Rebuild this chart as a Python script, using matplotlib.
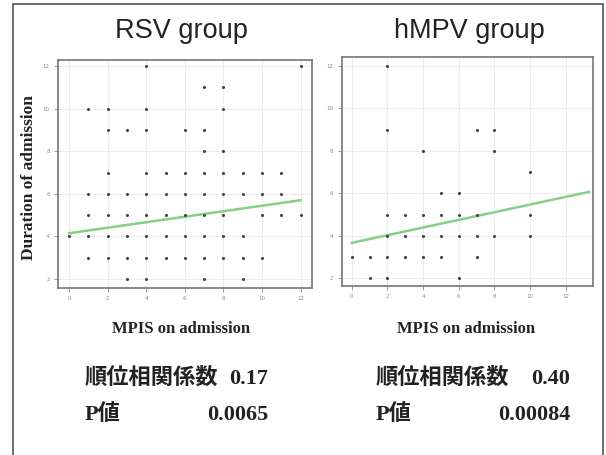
import matplotlib.pyplot as plt
from matplotlib.patches import Rectangle

# MPIS score (x) vs. duration of admission (y), one entry per dot
rsv_x = [4, 12,
         7, 8,
         1, 2, 4, 8,
         2, 3, 4, 6, 7,
         7, 8,
         2, 4, 5, 6, 7, 8, 9, 10, 11,
         1, 2, 3, 4, 5, 6, 7, 8, 9, 10, 11,
         1, 2, 3, 4, 5, 6, 7, 8, 10, 11, 12,
         0, 1, 2, 3, 4, 5, 6, 7, 8, 9,
         1, 2, 3, 4, 5, 6, 7, 8, 9, 10,
         3, 4, 7, 9]
rsv_y = [12, 12,
         11, 11,
         10, 10, 10, 10,
         9, 9, 9, 9, 9,
         8, 8,
         7, 7, 7, 7, 7, 7, 7, 7, 7,
         6, 6, 6, 6, 6, 6, 6, 6, 6, 6, 6,
         5, 5, 5, 5, 5, 5, 5, 5, 5, 5, 5,
         4, 4, 4, 4, 4, 4, 4, 4, 4, 4,
         3, 3, 3, 3, 3, 3, 3, 3, 3, 3,
         2, 2, 2, 2]

hmpv_x = [2,
          2, 7, 8,
          4, 8,
          10,
          5, 6,
          2, 3, 4, 5, 6, 7, 10,
          2, 3, 4, 5, 6, 7, 8, 10,
          0, 1, 2, 3, 4, 5, 7,
          1, 2, 6]
hmpv_y = [12,
          9, 9, 9,
          8, 8,
          7,
          6, 6,
          5, 5, 5, 5, 5, 5, 5,
          4, 4, 4, 4, 4, 4, 4, 4,
          3, 3, 3, 3, 3, 3, 3,
          2, 2, 2]

# fitted lines (end points)
rsv_fit_x = [0, 12]
rsv_fit_y = [4.15, 5.7]
hmpv_fit_x = [0, 13.3]
hmpv_fit_y = [3.67, 6.07]

titles = ["RSV group", "hMPV group"]
rho = ["0.17", "0.40"]
pval = ["0.0065", "0.00084"]

xticks = [0, 2, 4, 6, 8, 10, 12]
yticks = [2, 4, 6, 8, 10, 12]

W, H = 606, 455
fig = plt.figure(figsize=(W / 100, H / 100), dpi=100)

# outer frame of the figure panel
fig.patches.append(Rectangle((12.7 / W, -0.05), (603 - 12.7) / W, 1.05 - 4 / H,
                             transform=fig.transFigure, fill=False,
                             edgecolor="#555555", lw=1.2))

frame_col = "#7d7373"
tick_col = "#8a8a8a"


def panel(rect, xs, ys, fx, fy, xlim, ylim):
    ax = fig.add_axes(rect)
    ax.scatter(xs, ys, s=5, color="#444444", zorder=3, linewidths=0)
    ax.plot(fx, fy, color="#86d086", lw=1.8, zorder=2)
    ax.set_xlim(*xlim)
    ax.set_ylim(*ylim)
    ax.set_xticks(xticks)
    ax.set_yticks(yticks)
    ax.grid(True, color="#ededed", lw=0.8, zorder=0)
    ax.tick_params(length=3, width=0.6, color=tick_col, labelcolor=tick_col,
                   labelsize=4, pad=3)
    for s in ax.spines.values():
        s.set_color(frame_col)
        s.set_linewidth(1.2)
    return ax


panel([58 / W, 1 - 288 / H, 254 / W, 228 / H], rsv_x, rsv_y,
      rsv_fit_x, rsv_fit_y, (-0.57, 12.59), (1.58, 12.28))
panel([341.7 / W, 1 - 286 / H, 251.3 / W, 229 / H], hmpv_x, hmpv_y,
      hmpv_fit_x, hmpv_fit_y, (-0.56, 13.53), (1.64, 12.42))

title_font = dict(family="Liberation Sans", fontsize=19.5, color="#222222")
fig.text(181 / W, 1 - 38.3 / H, titles[0], ha="center", va="baseline", **title_font)
fig.text(469 / W, 1 - 38.3 / H, titles[1], ha="center", va="baseline", **title_font)

lab_font = dict(family="Liberation Serif", fontweight="bold", color="#222222")
fig.text(181 / W, 1 - 333 / H, "MPIS on admission", ha="center", va="baseline",
         fontsize=12, **lab_font)
fig.text(466 / W, 1 - 333 / H, "MPIS on admission", ha="center", va="baseline",
         fontsize=12, **lab_font)
fig.text(29 / W, 1 - 178 / H, "Duration of admission", ha="center", va="center",
         rotation=90, fontsize=12.5, **lab_font)

jp = dict(family=["Liberation Serif", "Noto Sans CJK JP"], fontweight="bold",
          fontsize=16, color="#222222")
for x0, x1, r, p in [(85, 268, rho[0], pval[0]), (376, 570, rho[1], pval[1])]:
    fig.text(x0 / W, 1 - 384 / H, "順位相関係数", ha="left", va="baseline", **jp)
    fig.text(x1 / W, 1 - 384 / H, r, ha="right", va="baseline", **jp)
    fig.text(x0 / W, 1 - 420 / H, "P値", ha="left", va="baseline", **jp)
    fig.text(x1 / W, 1 - 420 / H, p, ha="right", va="baseline", **jp)

fig.savefig("out.png", dpi=100)
